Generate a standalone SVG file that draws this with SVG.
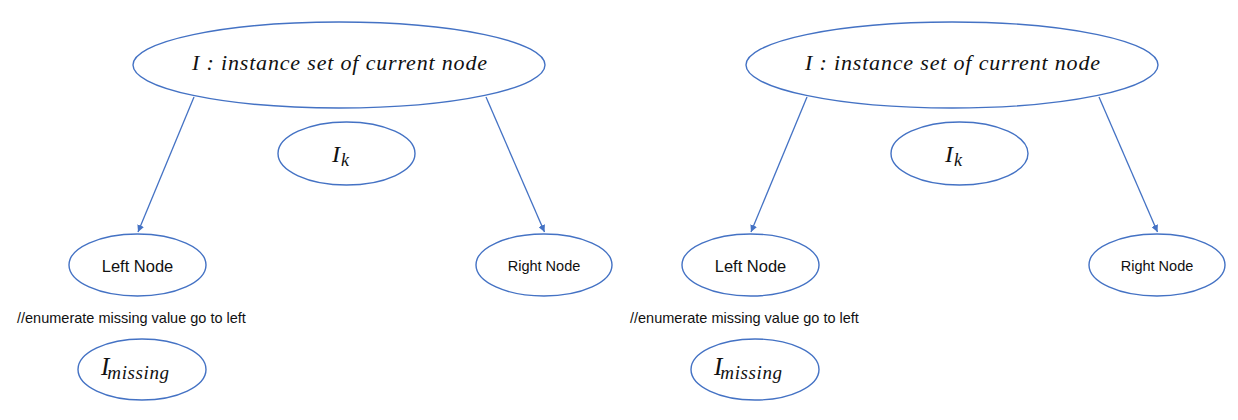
<svg xmlns="http://www.w3.org/2000/svg" width="1238" height="420" viewBox="0 0 1238 420">
<style>
.node ellipse{fill:#fff;stroke:#4472c4;stroke-width:1.4}
.conn line{stroke:#4472c4;stroke-width:1.3;fill:none}
.math{font-family:"Liberation Serif","DejaVu Serif",serif;font-style:italic;fill:#111}
.lbl{font-family:"Liberation Sans","Noto Sans",sans-serif;fill:#111}
</style>
<defs>
<marker id="arr" viewBox="0 0 10 10" refX="10" refY="5" markerWidth="7" markerHeight="7" markerUnits="userSpaceOnUse" orient="auto">
<path d="M0,0 L10,5 L0,10 z" fill="#4472c4"/>
</marker>
</defs>
<rect width="1238" height="420" fill="#fff"/>

<g id="connectors" class="conn">
<line x1="194" y1="97" x2="138" y2="232" marker-end="url(#arr)"/>
<line x1="486" y1="97" x2="544.5" y2="232" marker-end="url(#arr)"/>
<line x1="807" y1="97" x2="751" y2="232" marker-end="url(#arr)"/>
<line x1="1099" y1="97" x2="1157.5" y2="232" marker-end="url(#arr)"/>
</g>

<g id="left-panel">
<g id="L-root" class="node">
<ellipse cx="339" cy="65" rx="206" ry="43"/>
<text class="math" x="339.5" y="70" font-size="22" text-anchor="middle" textLength="295" lengthAdjust="spacing">I : instance set of current node</text>
</g>
<g id="L-ik" class="node">
<ellipse cx="346.5" cy="153.5" rx="68.5" ry="31.5"/>
<text class="math" x="332" y="162" font-size="24">I<tspan font-size="18" dx="1" dy="4">k</tspan></text>
</g>
<g id="L-left" class="node">
<ellipse cx="137.5" cy="265" rx="68.5" ry="31"/>
<text class="lbl" x="137.5" y="272" font-size="16.5" text-anchor="middle">Left Node</text>
</g>
<g id="L-right" class="node">
<ellipse cx="544" cy="265" rx="68" ry="31"/>
<text class="lbl" x="544" y="271" font-size="14.5" text-anchor="middle">Right Node</text>
</g>
<g id="L-comment">
<text class="lbl" x="17" y="323" font-size="14.5">//enumerate missing value go to left</text>
</g>
<g id="L-missing" class="node">
<ellipse cx="142" cy="369.5" rx="64" ry="30.5"/>
<text class="math" x="101" y="375" font-size="25">I<tspan font-size="19" dx="-2" dy="4" letter-spacing="0.6">missing</tspan></text>
</g>
</g>

<g id="right-panel" transform="translate(613,0)">
<g id="R-root" class="node">
<ellipse cx="339" cy="65" rx="206" ry="43"/>
<text class="math" x="339.5" y="70" font-size="22" text-anchor="middle" textLength="295" lengthAdjust="spacing">I : instance set of current node</text>
</g>
<g id="R-ik" class="node">
<ellipse cx="346.5" cy="153.5" rx="68.5" ry="31.5"/>
<text class="math" x="332" y="162" font-size="24">I<tspan font-size="18" dx="1" dy="4">k</tspan></text>
</g>
<g id="R-left" class="node">
<ellipse cx="137.5" cy="265" rx="68.5" ry="31"/>
<text class="lbl" x="137.5" y="272" font-size="16.5" text-anchor="middle">Left Node</text>
</g>
<g id="R-right" class="node">
<ellipse cx="544" cy="265" rx="68" ry="31"/>
<text class="lbl" x="544" y="271" font-size="14.5" text-anchor="middle">Right Node</text>
</g>
<g id="R-comment">
<text class="lbl" x="17" y="323" font-size="14.5">//enumerate missing value go to left</text>
</g>
<g id="R-missing" class="node">
<ellipse cx="142" cy="369.5" rx="64" ry="30.5"/>
<text class="math" x="101" y="375" font-size="25">I<tspan font-size="19" dx="-2" dy="4" letter-spacing="0.6">missing</tspan></text>
</g>
</g>
</svg>
